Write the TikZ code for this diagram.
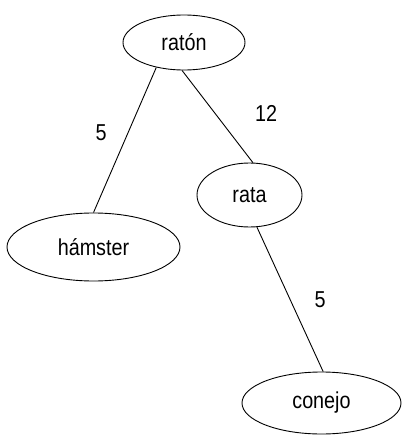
\documentclass[tikz,border=0pt]{standalone}
\usepackage{fontspec}
\setmainfont[FakeStretch=0.86]{Liberation Sans}
\usetikzlibrary{shapes.geometric}

\begin{document}
\begin{tikzpicture}[x=1pt,y=-1pt,
        animal/.style={draw,ellipse,inner sep=0pt,line width=0.9pt,font=\fontsize{23}{27}\selectfont},
        peso/.style={inner sep=0pt,font=\fontsize{23}{27}\selectfont}]

        \useasboundingbox (0,0) rectangle (402,436);

        \node[animal,minimum width=122pt,minimum height=55pt] (raton) at (184,42.5) {ratón};

        \node[animal,minimum width=173pt,minimum height=68pt] (hamster) at (93.5,247) {hámster};

        \node[animal,minimum width=105pt,minimum height=64pt] (rata) at (249.5,195) {rata};

        \node[animal,minimum width=159pt,minimum height=62pt] (conejo) at (321.5,403) {conejo};

        \draw[line width=0.9pt] (raton.-138) -- (hamster.90) node[peso,pos=0.45,xshift=-27pt] {5};

        \draw[line width=0.9pt] (raton.-94) -- (rata.84);

        \node[peso] (w2) at (266,113) {12};

        \draw[line width=0.9pt] (rata.-77) -- (conejo.87) node[peso,midway,xshift=30pt] {5};

    \end{tikzpicture}
\end{document}
